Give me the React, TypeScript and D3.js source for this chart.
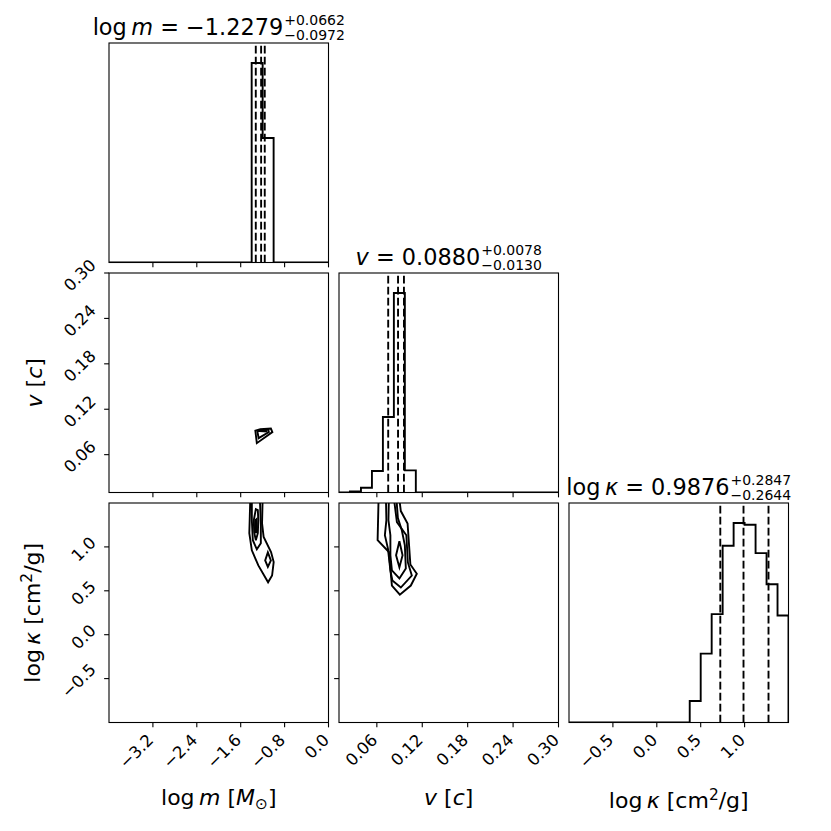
import React, { useEffect, useRef } from "react";
import * as d3 from "d3";

const FONT = "'DejaVu Sans', sans-serif";
const W = 831;
const H = 831;

// ---------------- data ----------------
const ranges: [number, number][] = [[-4, 0], [0.01, 0.3], [-1, 1.5]];
const nBins = 20;
const histLogM = [0, 0, 0, 0, 0, 0, 0, 0, 0, 0, 0, 0, 0, 1000, 624, 0, 0, 0, 0, 0];
const histV = [0, 5, 24, 108, 378, 1000, 111, 0, 0, 0, 0, 0, 0, 0, 0, 0, 0, 0, 0, 0];
const histLogK = [0, 0, 0, 0, 0, 0, 0, 0, 0, 0, 0, 108, 345, 543, 886, 1000, 991, 849, 693, 536];
const quantLogM = [-1.3251, -1.2279, -1.1617];
const quantV = [0.075, 0.088, 0.0958];
const quantLogK = [0.7232, 0.9876, 1.2723];

const ticksLogM = [-3.2, -2.4, -1.6, -0.8, 0.0];
const ticksV = [0.06, 0.12, 0.18, 0.24, 0.3];
const ticksLogK = [-0.5, 0.0, 0.5, 1.0];
const tickLabelsLogM = ["−3.2", "−2.4", "−1.6", "−0.8", "0.0"];
const tickLabelsV = ["0.06", "0.12", "0.18", "0.24", "0.30"];
const tickLabelsLogK = ["−0.5", "0.0", "0.5", "1.0"];

type Seg = { t: string; i?: boolean; s?: "sup" | "sub" };
const axisLabels: Seg[][] = [
  [{ t: "log\u2009" }, { t: "m", i: true }, { t: " [" }, { t: "M", i: true }, { t: "⊙", s: "sub" }, { t: "]" }],
  [{ t: "v", i: true }, { t: " [" }, { t: "c", i: true }, { t: "]" }],
  [{ t: "log\u2009" }, { t: "κ", i: true }, { t: " [cm" }, { t: "2", s: "sup" }, { t: "/g]" }],
];
const titleMain: Seg[][] = [
  [{ t: "log\u2009" }, { t: "m", i: true }, { t: " = −1.2279" }],
  [{ t: "v", i: true }, { t: " = 0.0880" }],
  [{ t: "log\u2009" }, { t: "κ", i: true }, { t: " = 0.9876" }],
];
const titleSup = ["+0.0662", "+0.0078", "+0.2847"];
const titleSub = ["−0.0972", "−0.0130", "−0.2644"];

// contour rings (data coordinates: [x param, y param])
const contLogMV: [number, number][][] = [
  [[-1.333, 0.0918], [-1.306, 0.0752], [-1.023, 0.0898], [-1.05, 0.0945], [-1.242, 0.0938]],
  [[-1.297, 0.0909], [-1.273, 0.0818], [-1.087, 0.0898], [-1.096, 0.0927], [-1.242, 0.0927]],
  [[-1.26, 0.0911], [-1.132, 0.0907], [-1.142, 0.0921], [-1.242, 0.0921]],
];
const contLogMLogK: [number, number][][] = [
  [[-1.425, 1.557], [-1.434, 1.351], [-1.443, 1.156], [-1.397, 0.961], [-1.279, 0.789], [-1.101, 0.597], [-1.028, 0.674], [-0.999, 0.827], [-1.047, 0.942], [-1.182, 1.114], [-1.211, 1.267], [-1.2, 1.557]],
  [[-1.397, 1.557], [-1.397, 1.305], [-1.379, 1.076], [-1.306, 0.972], [-1.233, 1.041], [-1.233, 1.248], [-1.251, 1.557]],
  [[-1.324, 1.431], [-1.361, 1.305], [-1.355, 1.167], [-1.324, 1.076], [-1.288, 1.156], [-1.279, 1.305], [-1.288, 1.42]],
  [[-1.333, 1.305], [-1.338, 1.213], [-1.322, 1.156], [-1.306, 1.225], [-1.31, 1.317]],
  [[-1.105, 0.938], [-1.154, 0.846], [-1.105, 0.772], [-1.05, 0.846]],
];
const contVLogK: [number, number][][] = [
  [[0.0623, 1.557], [0.061, 1.076], [0.0759, 0.942], [0.0799, 0.56], [0.0904, 0.456], [0.1049, 0.56], [0.1128, 0.694], [0.1043, 0.8], [0.1006, 1.267], [0.0917, 1.408], [0.0895, 1.557]],
  [[0.072, 1.557], [0.0726, 1.305], [0.0706, 1.133], [0.0746, 0.984], [0.0779, 0.732], [0.0805, 0.617], [0.0917, 0.537], [0.1062, 0.674], [0.101, 0.823], [0.099, 1.133], [0.0865, 1.282], [0.0825, 1.557]],
  [[0.0759, 1.557], [0.0753, 1.305], [0.0779, 1.133], [0.0779, 0.904], [0.0799, 0.732], [0.0898, 0.64], [0.0983, 0.755], [0.097, 1.018], [0.093, 1.19], [0.0878, 1.328], [0.0858, 1.557]],
  [[0.0898, 1.064], [0.0854, 0.904], [0.0898, 0.766], [0.094, 0.904]],
];

const hists = [histLogM, histV, histLogK];
const quants = [quantLogM, quantV, quantLogK];
const ticks = [ticksLogM, ticksV, ticksLogK];
const tickLabels = [tickLabelsLogM, tickLabelsV, tickLabelsLogK];
const contours: Record<string, [number, number][][]> = {
  "1-0": contLogMV,
  "2-0": contLogMLogK,
  "2-1": contVLogK,
};

// ---------------- layout ----------------
const L0 = 109;
const T0 = 43;
const S = 219.5;
const G = 10.5;
const PT = 1.39;
const TICK = 3.5 * PT;
const PAD = 3.5 * PT;
const TICK_FS = 16.5;
const LABEL_FS = 22;
const TITLE_FS = 22.4;
const SCRIPT_FS = 14;
const LW = 1.9;

function renderSegs(text: any, segs: Seg[], size: number) {
  let shift = 0;
  segs.forEach((sg) => {
    let target = 0;
    let fs = size;
    if (sg.s === "sup") {
      target = -0.38 * size;
      fs = size * 0.7;
    } else if (sg.s === "sub") {
      target = 0.2 * size;
      fs = size * 0.7;
    }
    const ts = text.append("tspan").text(sg.t).attr("font-size", fs);
    if (sg.i) ts.attr("font-style", "italic");
    const dy = target - shift;
    if (dy !== 0) ts.attr("dy", dy);
    shift = target;
  });
}

export default function App() {
  const ref = useRef<SVGSVGElement>(null);
  useEffect(() => {
    const svg = d3.select(ref.current!);
    svg.selectAll("*").remove();
    svg.append("rect").attr("width", W).attr("height", H).attr("fill", "white");
    const defs = svg.append("defs");
    const k = Math.SQRT1_2;
    const asc = 0.76 * TICK_FS;
    const desc = 0.208 * TICK_FS;

    for (let i = 0; i < 3; i++) {
      for (let j = 0; j <= i; j++) {
        const x0 = L0 + j * (S + G);
        const y0 = T0 + i * (S + G);
        const xs = d3.scaleLinear().domain(ranges[j]).range([x0, x0 + S]);
        const clipId = `clip-${i}-${j}`;
        defs.append("clipPath").attr("id", clipId).append("rect").attr("x", x0).attr("y", y0).attr("width", S).attr("height", S);
        const g = svg.append("g");
        const inner = g.append("g").attr("clip-path", `url(#${clipId})`);

        if (i === j) {
          const counts = hists[i];
          const ys = d3.scaleLinear().domain([0, 1.1 * (d3.max(counts) as number)]).range([y0 + S, y0]);
          const edges = d3.range(nBins + 1).map((b) => ranges[i][0] + (b * (ranges[i][1] - ranges[i][0])) / nBins);
          const pts: [number, number][] = [[edges[0], 0]];
          counts.forEach((c, b) => {
            pts.push([edges[b], c]);
            pts.push([edges[b + 1], c]);
          });
          pts.push([edges[nBins], 0]);
          const line = d3.line<[number, number]>().x((d) => xs(d[0])).y((d) => ys(d[1]));
          inner.append("path").attr("d", line(pts)).attr("fill", "none").attr("stroke", "black").attr("stroke-width", LW).attr("stroke-linejoin", "miter");
          quants[i].forEach((q) => {
            inner.append("line").attr("x1", xs(q)).attr("x2", xs(q)).attr("y1", y0 + S).attr("y2", y0)
              .attr("stroke", "black").attr("stroke-width", LW).attr("stroke-dasharray", "7.7,3.3");
          });
          // title
          const baseY = y0 - 6 * PT;
          const tMain = svg.append("text").attr("font-family", FONT).attr("font-size", TITLE_FS).attr("y", baseY).attr("fill", "black");
          renderSegs(tMain, titleMain[i], TITLE_FS);
          const tSup = svg.append("text").attr("font-family", FONT).attr("font-size", SCRIPT_FS).attr("y", baseY - 10).text(titleSup[i]);
          const tSub = svg.append("text").attr("font-family", FONT).attr("font-size", SCRIPT_FS).attr("y", baseY + 5).text(titleSub[i]);
          const mw = (tMain.node() as SVGTextElement).getComputedTextLength();
          const sw = Math.max((tSup.node() as SVGTextElement).getComputedTextLength(), (tSub.node() as SVGTextElement).getComputedTextLength());
          const total = mw + 1 + sw;
          const start = x0 + S / 2 - total / 2;
          tMain.attr("x", start);
          tSup.attr("x", start + mw + 1);
          tSub.attr("x", start + mw + 1);
        } else {
          const ys = d3.scaleLinear().domain(ranges[i]).range([y0 + S, y0]);
          const line = d3.line<[number, number]>().x((d) => xs(d[0])).y((d) => ys(d[1])).curve(d3.curveLinearClosed);
          (contours[`${i}-${j}`] || []).forEach((ring) => {
            inner.append("path").attr("d", line(ring)).attr("fill", "none").attr("stroke", "black").attr("stroke-width", LW).attr("stroke-linejoin", "miter");
          });
          // left ticks
          ticks[i].forEach((t, ti) => {
            const ty = ys(t);
            g.append("line").attr("x1", x0).attr("x2", x0 - TICK).attr("y1", ty).attr("y2", ty).attr("stroke", "black").attr("stroke-width", 1.1);
            if (j === 0) {
              const tx = svg.append("text").attr("font-family", FONT).attr("font-size", TICK_FS).attr("text-anchor", "end").text(tickLabels[i][ti]);
              const L = (tx.node() as SVGTextElement).getComputedTextLength();
              const bh = k * (L + asc + desc);
              const rightX = x0 - TICK - PAD;
              const topY = ty + 3 - bh / 2;
              const bx = rightX - k * desc;
              const by = topY + k * asc;
              tx.attr("x", bx).attr("y", by).attr("transform", `rotate(-45,${bx},${by})`);
            }
          });
        }
        // bottom ticks
        ticks[j].forEach((t, ti) => {
          const tx0 = xs(t);
          g.append("line").attr("x1", tx0).attr("x2", tx0).attr("y1", y0 + S).attr("y2", y0 + S + TICK).attr("stroke", "black").attr("stroke-width", 1.1);
          if (i === 2) {
            const tx = svg.append("text").attr("font-family", FONT).attr("font-size", TICK_FS).attr("text-anchor", "end").text(tickLabels[j][ti]);
            const rightX = tx0 + 4;
            const topY = y0 + S + TICK + PAD;
            const bx = rightX - k * desc;
            const by = topY + k * asc;
            tx.attr("x", bx).attr("y", by).attr("transform", `rotate(-45,${bx},${by})`);
          }
        });
        // spines
        g.append("rect").attr("x", x0).attr("y", y0).attr("width", S).attr("height", S).attr("fill", "none").attr("stroke", "black").attr("stroke-width", 1.1);
      }
    }

    // bottom axis labels
    for (let j = 0; j < 3; j++) {
      const x0 = L0 + j * (S + G);
      const top = T0 + 2 * (S + G) + S + 0.3 * S;
      const hasSup = axisLabels[j].some((s) => s.s === "sup");
      const baseline = top + (hasSup ? 0.38 * LABEL_FS + 0.73 * 0.7 * LABEL_FS : 0.76 * LABEL_FS);
      const t = svg.append("text").attr("font-family", FONT).attr("font-size", LABEL_FS).attr("text-anchor", "middle").attr("x", x0 + S / 2).attr("y", baseline);
      renderSegs(t, axisLabels[j], LABEL_FS);
    }
    // left axis labels
    for (let i = 1; i < 3; i++) {
      const y0 = T0 + i * (S + G);
      const hasG = axisLabels[i].some((s) => s.t.includes("g"));
      const bx = hasG ? 40 : 42;
      const cy = y0 + S / 2;
      const t = svg.append("text").attr("font-family", FONT).attr("font-size", LABEL_FS).attr("text-anchor", "middle").attr("transform", `translate(${bx},${cy}) rotate(-90)`);
      renderSegs(t, axisLabels[i], LABEL_FS);
    }
  }, []);

  return (
    <svg
      ref={ref}
      width={W}
      height={H}
      viewBox={`0 0 ${W} ${H}`}
      style={{ position: "absolute", left: 0, top: 0, display: "block" }}
    />
  );
}
